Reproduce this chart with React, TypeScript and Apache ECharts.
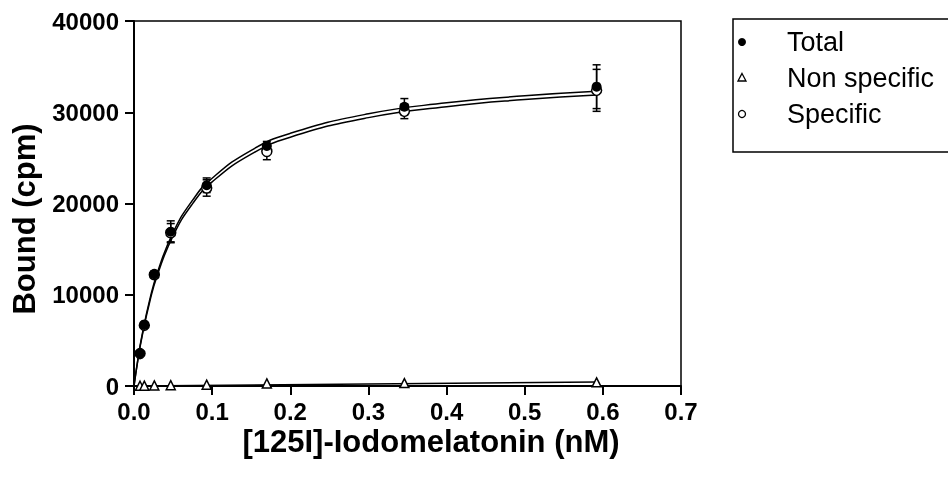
import React, { useEffect, useRef } from "react";
import * as echarts from "echarts";

// Measured points
const concentration = [0.0077, 0.0132, 0.026, 0.047, 0.093, 0.17, 0.346, 0.592];
const totalBound = [3580, 6690, 12250, 16900, 22000, 26300, 30600, 32800];
const totalErr = [200, 250, 350, 1200, 800, 500, 900, 2400];
const specificBound = [3550, 6650, 12200, 16800, 21700, 25700, 30100, 32400];
const specificErr = [200, 250, 350, 1000, 900, 900, 800, 2300];
const nonSpecificBound = [30, 40, 60, 90, 150, 280, 320, 400];

// Fitted curves
const fitX = [0, 0.005, 0.01, 0.02, 0.03, 0.05, 0.075, 0.1, 0.15, 0.2, 0.3, 0.4, 0.5, 0.592];
const totalFit = [0, 2940, 5430, 9410, 12450, 16810, 20370, 22770, 25830, 27690, 29830, 31030, 31800, 32300];
const specificFit = [0, 2860, 5290, 9180, 12170, 16460, 19980, 22370, 25410, 27270, 29410, 30610, 31390, 31880];
const nsFitX = [0, 0.592];
const nsFit = [0, 450];

const xTicks = [0, 0.1, 0.2, 0.3, 0.4, 0.5, 0.6, 0.7];
const yTicks = [0, 10000, 20000, 30000, 40000];

const legendNames = ["Total", "Non specific", "Specific"];

const FONT = "'Liberation Sans', Arial, Helvetica, sans-serif";

export default function App() {
  const ref = useRef<HTMLDivElement>(null);
  useEffect(() => {
    if (!ref.current) return;
    const chart = echarts.init(ref.current, null, { renderer: "svg" });

    const pairs = (xs: number[], ys: number[]) => xs.map((x, i) => [x, ys[i]]);
    const errData = (ys: number[], es: number[]) =>
      concentration.map((x, i) => [x, ys[i] - es[i], ys[i] + es[i]]);

    const errorSeries = (name: string, ys: number[], es: number[]) => ({
      type: "custom",
      name,
      data: errData(ys, es),
      z: 3,
      renderItem: (params: any, api: any) => {
        const x = api.value(0);
        const lo = api.coord([x, api.value(1)]);
        const hi = api.coord([x, api.value(2)]);
        const cap = 4;
        const style = { stroke: "#000", lineWidth: 1.5 };
        return {
          type: "group",
          children: [
            { type: "line", shape: { x1: lo[0], y1: lo[1], x2: hi[0], y2: hi[1] }, style },
            { type: "line", shape: { x1: lo[0] - cap, y1: lo[1], x2: lo[0] + cap, y2: lo[1] }, style },
            { type: "line", shape: { x1: hi[0] - cap, y1: hi[1], x2: hi[0] + cap, y2: hi[1] }, style },
          ],
        };
      },
    });

    const legendX = 733;
    const legendY = 19;
    const rowY = [42, 78, 114];

    chart.setOption({
      animation: false,
      grid: {
        left: 134,
        right: 267,
        top: 21,
        bottom: 91,
        show: true,
        borderColor: "#000",
        borderWidth: 1.5,
        backgroundColor: "transparent",
      },
      xAxis: {
        type: "value",
        min: xTicks[0],
        max: xTicks[xTicks.length - 1],
        interval: 0.1,
        axisLine: { show: true, lineStyle: { color: "#000", width: 2 } },
        axisTick: { show: true, length: 9, lineStyle: { color: "#000", width: 2 } },
        splitLine: { show: false },
        axisLabel: {
          color: "#000",
          fontFamily: FONT,
          fontWeight: "bold",
          fontSize: 24,
          margin: 13,
          formatter: (v: number) => v.toFixed(1),
        },
      },
      yAxis: {
        type: "value",
        min: yTicks[0],
        max: yTicks[yTicks.length - 1],
        interval: 10000,
        axisLine: { show: true, lineStyle: { color: "#000", width: 2 } },
        axisTick: { show: true, length: 9, lineStyle: { color: "#000", width: 2 } },
        splitLine: { show: false },
        axisLabel: {
          color: "#000",
          fontFamily: FONT,
          fontWeight: "bold",
          fontSize: 24,
          margin: 15,
          formatter: (v: number) => String(v),
        },
      },
      series: [
        {
          type: "line",
          name: "Total fit",
          data: pairs(fitX, totalFit),
          smooth: true,
          showSymbol: false,
          lineStyle: { color: "#000", width: 1.5 },
          z: 2,
        },
        {
          type: "line",
          name: "Specific fit",
          data: pairs(fitX, specificFit),
          smooth: true,
          showSymbol: false,
          lineStyle: { color: "#000", width: 1.5 },
          z: 2,
        },
        {
          type: "line",
          name: "Non specific fit",
          data: pairs(nsFitX, nsFit),
          showSymbol: false,
          lineStyle: { color: "#000", width: 1.5 },
          z: 2,
        },
        errorSeries("Total err", totalBound, totalErr),
        errorSeries("Specific err", specificBound, specificErr),
        {
          type: "scatter",
          name: "Specific",
          data: pairs(concentration, specificBound),
          symbol: "circle",
          symbolSize: 10,
          itemStyle: { color: "#fff", borderColor: "#000", borderWidth: 1.5, opacity: 1 },
          z: 4,
        },
        {
          type: "scatter",
          name: "Total",
          data: pairs(concentration, totalBound),
          symbol: "circle",
          symbolSize: 10,
          itemStyle: { color: "#000", opacity: 1 },
          z: 5,
        },
        {
          type: "scatter",
          name: "Non specific",
          data: pairs(concentration, nonSpecificBound),
          symbol: "triangle",
          symbolSize: 9,
          itemStyle: { color: "#fff", borderColor: "#000", borderWidth: 1.5, opacity: 1 },
          z: 5,
        },
      ],
      graphic: [
        {
          type: "text",
          x: 24,
          y: 219,
          rotation: Math.PI / 2,
          style: {
            text: "Bound (cpm)",
            font: `bold 31px ${FONT}`,
            fill: "#000",
            align: "center",
            verticalAlign: "middle",
          },
        },
        {
          type: "text",
          x: 431,
          y: 441,
          style: {
            text: "[125I]-Iodomelatonin (nM)",
            font: `bold 31px ${FONT}`,
            fill: "#000",
            align: "center",
            verticalAlign: "middle",
          },
        },
        {
          type: "rect",
          shape: { x: legendX, y: legendY, width: 260, height: 133 },
          style: { fill: "#fff", stroke: "#000", lineWidth: 1.5 },
        },
        {
          type: "circle",
          shape: { cx: 742, cy: rowY[0], r: 4 },
          style: { fill: "#000" },
        },
        {
          type: "polygon",
          shape: { points: [[742, rowY[1] - 4.5], [746, rowY[1] + 3], [738, rowY[1] + 3]] },
          style: { fill: "#fff", stroke: "#000", lineWidth: 1.3 },
        },
        {
          type: "circle",
          shape: { cx: 742, cy: rowY[2], r: 3.5 },
          style: { fill: "#fff", stroke: "#000", lineWidth: 1.3 },
        },
        ...legendNames.map((n, i) => ({
          type: "text",
          x: 787,
          y: rowY[i],
          style: {
            text: n,
            font: `27px ${FONT}`,
            fill: "#000",
            align: "left",
            verticalAlign: "middle",
          },
        })),
      ],
    });
    return () => chart.dispose();
  }, []);
  return (
    <div
      ref={ref}
      style={{ position: "fixed", left: 0, top: 0, width: 948, height: 477 }}
    />
  );
}
